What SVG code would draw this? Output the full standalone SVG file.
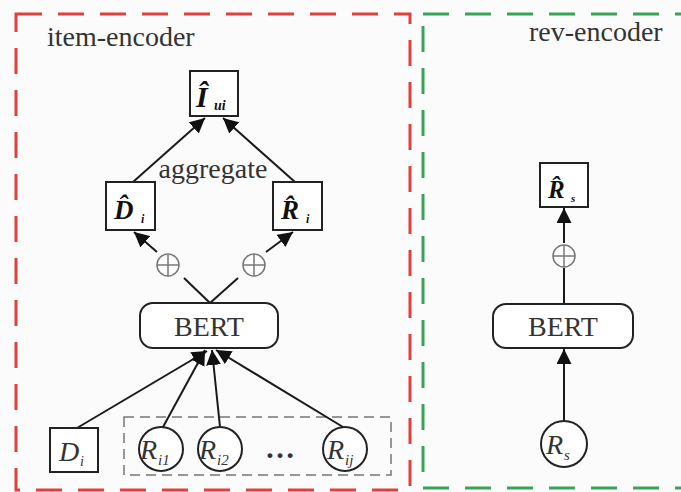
<svg xmlns="http://www.w3.org/2000/svg" width="681" height="492" viewBox="0 0 681 492">
<defs>
<marker id="ahb" viewBox="0 0 10 10" refX="10" refY="5" markerWidth="15" markerHeight="15" markerUnits="userSpaceOnUse" orient="auto">
<path d="M0,0 L10,5 L0,10 z" fill="#111"/>
</marker>
</defs>
<style>
.frame{fill:none;stroke-width:3;stroke-dasharray:26 16}
.box{fill:#fff;stroke:#222;stroke-width:2}
.lbl{font-family:"Liberation Serif",serif;fill:#333}
.math{font-family:"Liberation Serif",serif;font-style:italic;fill:#333}
.bm{font-family:"Liberation Serif",serif;font-style:italic;font-weight:bold;fill:#111}
.edge{stroke:#1a1a1a;stroke-width:2;fill:none}
.op{fill:#fff;stroke:#777;stroke-width:1.5}
.opx{stroke:#777;stroke-width:1.5}
</style>
<rect width="681" height="492" fill="#fbfbfb"/>
<g id="item-encoder-frame">
<rect class="frame" x="16" y="14" width="394" height="476" stroke="#e0403c"/>
<text class="lbl" x="47" y="46" font-size="28">item-encoder</text>
</g>
<g id="rev-encoder-frame">
<rect class="frame" x="423" y="14" width="280" height="474" stroke="#3aa35a"/>
<text class="lbl" x="529" y="41" font-size="28">rev-encoder</text>
</g>
<g id="review-group">
<rect x="124" y="417" width="267" height="58" fill="none" stroke="#777" stroke-width="1.5" stroke-dasharray="10 6"/>
</g>
<g id="connectors">
<line class="edge" x1="133" y1="182" x2="205" y2="118" marker-end="url(#ahb)"/>
<line class="edge" x1="295" y1="182" x2="223" y2="118" marker-end="url(#ahb)"/>
<line class="edge" x1="157" y1="252" x2="134" y2="232" marker-end="url(#ahb)"/>
<line class="edge" x1="266" y1="252" x2="293" y2="232" marker-end="url(#ahb)"/>
<line class="edge" x1="210" y1="303" x2="184" y2="278"/>
<line class="edge" x1="210" y1="303" x2="238" y2="278"/>
<line class="edge" x1="77" y1="428" x2="207" y2="351" marker-end="url(#ahb)"/>
<line class="edge" x1="163" y1="427" x2="205" y2="350" marker-end="url(#ahb)"/>
<line class="edge" x1="220" y1="427" x2="212" y2="350" marker-end="url(#ahb)"/>
<line class="edge" x1="343" y1="427" x2="216" y2="350" marker-end="url(#ahb)"/>
<line class="edge" x1="564" y1="243" x2="564" y2="208" marker-end="url(#ahb)"/>
<line class="edge" x1="564" y1="268" x2="564" y2="304"/>
<line class="edge" x1="564" y1="421" x2="564" y2="349" marker-end="url(#ahb)"/>
</g>
<g id="I_ui">
<rect class="box" x="190" y="71" width="48" height="45"/>
<text class="bm" x="196" y="107" font-size="30">Î</text>
<text class="bm" x="214" y="110" font-size="14">ui</text>
</g>
<g id="aggregate-label">
<text class="lbl" x="213" y="178" font-size="28" text-anchor="middle">aggregate</text>
</g>
<g id="D_i_hat">
<rect class="box" x="106" y="182" width="49" height="48"/>
<text class="bm" x="114" y="219" font-size="27">D̂</text>
<text class="bm" x="141" y="223" font-size="12">i</text>
</g>
<g id="R_i_hat">
<rect class="box" x="273" y="182" width="49" height="48"/>
<text class="bm" x="281" y="219" font-size="27">R̂</text>
<text class="bm" x="306" y="223" font-size="12">i</text>
</g>
<g id="oplus1">
<circle class="op" cx="168" cy="265" r="11"/>
<line class="opx" x1="157" y1="265" x2="179" y2="265"/>
<line class="opx" x1="168" y1="254" x2="168" y2="276"/>
</g>
<g id="oplus2">
<circle class="op" cx="254" cy="265" r="11"/>
<line class="opx" x1="243" y1="265" x2="265" y2="265"/>
<line class="opx" x1="254" y1="254" x2="254" y2="276"/>
</g>
<g id="BERT1">
<rect class="box" x="140" y="303" width="138" height="45" rx="13"/>
<text class="lbl" x="209" y="336" font-size="28" text-anchor="middle">BERT</text>
</g>
<g id="D_i">
<rect class="box" x="50" y="428" width="48" height="44"/>
<text class="math" x="59" y="461" font-size="28">D</text>
<text class="math" x="80" y="466" font-size="14">i</text>
</g>
<g id="R_i1">
<circle class="box" cx="161" cy="449" r="22"/>
<text class="math" x="140" y="459" font-size="28">R</text>
<text class="math" x="158" y="465" font-size="15">i1</text>
</g>
<g id="R_i2">
<circle class="box" cx="220" cy="449" r="22"/>
<text class="math" x="199" y="459" font-size="28">R</text>
<text class="math" x="217" y="465" font-size="15">i2</text>
</g>
<g id="dots">
<text class="lbl" x="280" y="458" font-size="30" text-anchor="middle" font-weight="bold" fill="#111">…</text>
</g>
<g id="R_ij">
<circle class="box" cx="345" cy="449" r="22"/>
<text class="math" x="327" y="459" font-size="28">R</text>
<text class="math" x="345" y="465" font-size="15">ij</text>
</g>
<g id="R_s_hat">
<rect class="box" x="540" y="163" width="48" height="44"/>
<text class="bm" x="548" y="198" font-size="25">R̂</text>
<text class="bm" x="571" y="202" font-size="11">s</text>
</g>
<g id="oplus3">
<circle class="op" cx="564" cy="256" r="11"/>
<line class="opx" x1="553" y1="256" x2="575" y2="256"/>
<line class="opx" x1="564" y1="245" x2="564" y2="267"/>
</g>
<g id="BERT2">
<rect class="box" x="493" y="304" width="140" height="44" rx="13"/>
<text class="lbl" x="563" y="336" font-size="28" text-anchor="middle">BERT</text>
</g>
<g id="R_s">
<circle class="box" cx="564" cy="444" r="23"/>
<text class="math" x="546" y="454" font-size="28">R</text>
<text class="math" x="564" y="460" font-size="15">s</text>
</g>
</svg>
